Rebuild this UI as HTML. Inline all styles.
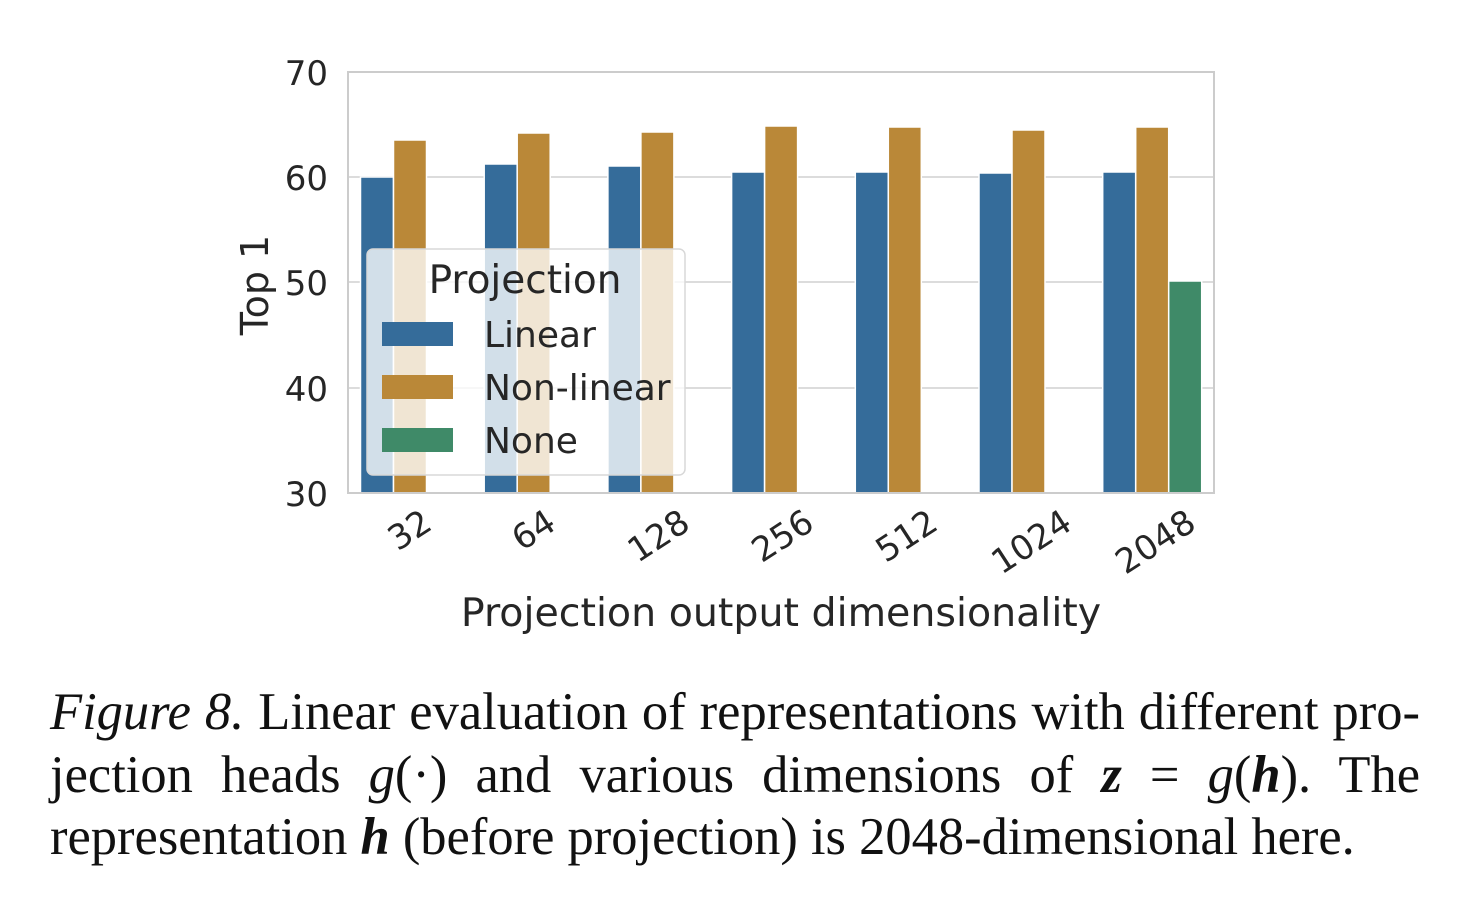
<!DOCTYPE html>
<html><head><meta charset="utf-8"><style>
html,body{margin:0;padding:0;background:#fff;}
.cap{position:absolute;left:50px;width:1370px;font-family:"Liberation Serif",serif;font-size:52.5px;color:#111;line-height:62px;text-align:justify;text-align-last:justify;white-space:nowrap;}
</style></head><body>
<div style="position:relative;width:1476px;height:908px;overflow:hidden">
<svg width="1476" height="908" style="position:absolute;left:0;top:0" font-family="DejaVu Sans, sans-serif" fill="#262626">
<g stroke="#dcdcdc" stroke-width="2">
<line x1="348" x2="1214" y1="177" y2="177"/><line x1="348" x2="1214" y1="282" y2="282"/><line x1="348" x2="1214" y1="388" y2="388"/>
</g>
<g stroke="#fff" stroke-width="1.5">
<g fill="#356c9a">
<rect x="360.5" y="177" width="33" height="316"/>
<rect x="484.2" y="164" width="33" height="329"/>
<rect x="607.9" y="166" width="33" height="327"/>
<rect x="731.6" y="172" width="33" height="321"/>
<rect x="855.3" y="172" width="33" height="321"/>
<rect x="979" y="173" width="33" height="320"/>
<rect x="1102.7" y="172" width="33" height="321"/>
</g>
<g fill="#ba8838">
<rect x="393.5" y="140" width="33" height="353"/>
<rect x="517.2" y="133" width="33" height="360"/>
<rect x="640.9" y="132" width="33" height="361"/>
<rect x="764.6" y="126" width="33" height="367"/>
<rect x="888.3" y="127" width="33" height="366"/>
<rect x="1012" y="130" width="33" height="363"/>
<rect x="1135.7" y="127" width="33" height="366"/>
</g>
<rect x="1168.7" y="281" width="33" height="212" fill="#3f8a68"/>
</g>
<rect x="348" y="72" width="866" height="421" fill="none" stroke="#cccccc" stroke-width="2"/>
<g font-size="34" text-anchor="end">
<text x="328" y="85">70</text><text x="328" y="190">60</text><text x="328" y="295">50</text><text x="328" y="401">40</text><text x="328" y="506">30</text>
</g>
<g font-size="34" text-anchor="end">
<text transform="translate(434,528) rotate(-33)">32</text>
<text transform="translate(558,528) rotate(-33)">64</text>
<text transform="translate(692,528) rotate(-33)">128</text>
<text transform="translate(816,528) rotate(-33)">256</text>
<text transform="translate(940,528) rotate(-33)">512</text>
<text transform="translate(1074,528) rotate(-33)">1024</text>
<text transform="translate(1198,528) rotate(-33)">2048</text>
</g>
<text x="781" y="626" font-size="39.5" text-anchor="middle">Projection output dimensionality</text>
<text transform="translate(268,285) rotate(-90)" font-size="38" text-anchor="middle">Top 1</text>
<rect x="367" y="249" width="318" height="226" rx="6" fill="#fff" fill-opacity="0.78" stroke="#d8d8d8" stroke-width="1.5"/>
<text x="525" y="293" font-size="39" text-anchor="middle">Projection</text>
<rect x="382" y="322" width="71" height="24" fill="#356c9a"/>
<rect x="382" y="375" width="71" height="24" fill="#ba8838"/>
<rect x="382" y="428" width="71" height="24" fill="#3f8a68"/>
<g font-size="36"><text x="484" y="347">Linear</text><text x="484" y="400">Non-linear</text><text x="484" y="453">None</text></g>
</svg>
<div class="cap" style="top:681px"><i>Figure 8.</i> Linear evaluation of representations with different pro-</div>
<div class="cap" style="top:744px">jection heads <i>g</i>(·) and various dimensions of <b><i>z</i></b> = <i>g</i>(<b><i>h</i></b>). The</div>
<div class="cap" style="top:806px;text-align-last:left">representation <b><i>h</i></b> (before projection) is 2048-dimensional here.</div>
</div>
</body></html>
